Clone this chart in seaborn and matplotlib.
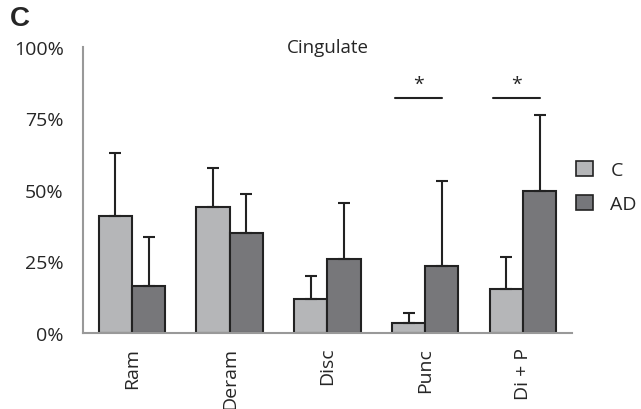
import pandas as pd
import seaborn as sns
import matplotlib.pyplot as plt
import numpy as np

# Data (fractions)
categories = ['Ram', 'Deram', 'Disc', 'Punc', 'Di + P']
groups = ['C', 'AD']
c_mean = [0.41, 0.44, 0.12, 0.035, 0.155]
ad_mean = [0.165, 0.35, 0.26, 0.235, 0.495]
c_err = [0.22, 0.135, 0.08, 0.035, 0.11]
ad_err = [0.17, 0.135, 0.195, 0.295, 0.265]
# significance markers: (category index, line height)
sig_marks = [(3, 0.82), (4, 0.82)]

colors = {'C': '#b5b6b8', 'AD': '#76777b'}

df = pd.DataFrame({
    'region': categories * 2,
    'group': ['C'] * len(categories) + ['AD'] * len(categories),
    'value': c_mean + ad_mean,
    'err': c_err + ad_err,
})

sns.set_style('white')
plt.rcParams['font.family'] = ['Open Sans', 'DejaVu Sans']

fig = plt.figure(figsize=(6.41, 4.10), dpi=100)
ax = fig.add_axes([0.1295, 0.1854, 0.7625, 0.698])

sns.barplot(data=df, x='region', y='value', hue='group', hue_order=groups,
            palette=colors, width=0.68, edgecolor='#222222', linewidth=1.5,
            errorbar=None, legend=False, ax=ax)

# upward-only error bars, placed on the drawn bars
for patch, (_, row) in zip(ax.patches, df.iterrows()):
    x = patch.get_x() + patch.get_width() / 2
    ax.errorbar(x, row['value'], yerr=[[0], [row['err']]], fmt='none',
                ecolor='#222222', elinewidth=1.5, capsize=4, capthick=1.5, zorder=1)

for i, h in sig_marks:
    ax.plot([i - 0.31, i + 0.17], [h, h], color='#222222', lw=1.5)
    ax.text(i - 0.07, h + 0.02, '*', ha='center', va='bottom', fontsize=14)

ax.set_ylim(0, 1)
ax.set_xlim(-0.5, 4.5)
ax.set_yticks([0, 0.25, 0.5, 0.75, 1.0])
ax.set_yticklabels(['0%', '25%', '50%', '75%', '100%'], fontsize=14)
ax.set_xticks(range(len(categories)))
ax.set_xticklabels(categories, rotation=90, fontsize=14)
ax.tick_params(axis='y', length=0, pad=14)
ax.tick_params(axis='x', length=0, pad=10)
ax.set_xlabel('')
ax.set_ylabel('')
sns.despine(ax=ax)
for s in ['left', 'bottom']:
    ax.spines[s].set_color('#999999')
    ax.spines[s].set_linewidth(1.5)
ax.set_title('Cingulate', fontsize=13.5, pad=-4)

handles = [plt.Rectangle((0, 0), 1, 1, facecolor=colors[g], edgecolor='#222222', lw=1.2)
           for g in groups]
fig.legend(handles, groups, loc='upper left', bbox_to_anchor=(0.899, 0.605),
           frameon=False, fontsize=14, handlelength=0.85, handleheight=0.85,
           labelspacing=0.8, handletextpad=0.9, borderpad=0, borderaxespad=0)

fig.text(0.015, 0.985, 'C', fontsize=20, fontweight='bold', va='top', ha='left',
         family='Liberation Sans')

fig.savefig('out.png', dpi=100)
